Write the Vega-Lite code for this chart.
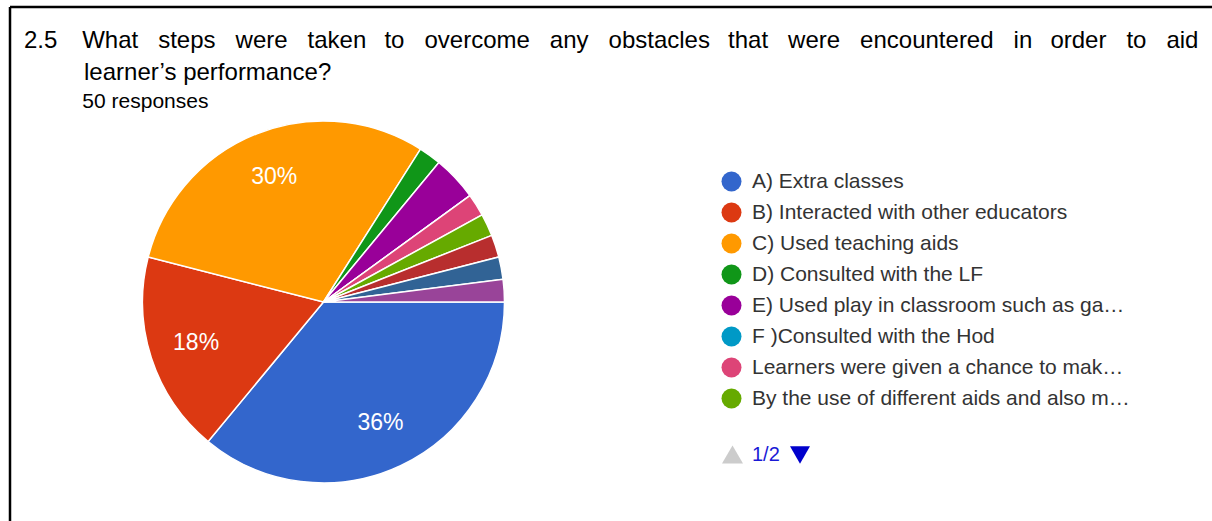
{
  "$schema": "https://vega.github.io/schema/vega-lite/v6.json",
  "width": 1202,
  "height": 514,
  "autosize": {"type": "none"},
  "padding": {"left": 10, "top": 7, "right": 0, "bottom": 0},
  "background": "white",
  "view": {"stroke": "#000000", "strokeWidth": 2.5, "strokeDash": [1202, 1716, 514, 0]},
  "config": {
    "font": "Liberation Sans"
  },
  "title": {
    "text": [
      "2.5\u00a0\u00a0\u00a0\u2009What\u00a0\u00a0\u00a0steps\u00a0\u00a0\u00a0were\u00a0\u00a0\u00a0taken\u00a0\u00a0\u2009to\u00a0\u00a0\u00a0overcome\u00a0\u00a0\u00a0any\u00a0\u00a0\u00a0obstacles\u00a0\u00a0\u2009that\u00a0\u00a0\u00a0were\u00a0\u00a0\u00a0encountered\u00a0\u00a0\u00a0in\u00a0\u00a0\u2009order\u00a0\u00a0\u00a0to\u00a0\u00a0\u00a0aid",
      "\u200b\u00a0\u00a0\u00a0\u00a0\u00a0\u00a0\u00a0\u00a0\u00a0learner\u2019s performance?"
    ],
    "subtitle": "\u200b\u00a0\u00a0\u00a0\u00a0\u00a0\u00a0\u00a0\u00a0\u00a0\u00a050 responses",
    "anchor": "start",
    "frame": "group",
    "orient": "top",
    "offset": -105,
    "dx": 14,
    "font": "Liberation Sans",
    "fontSize": 24,
    "fontWeight": "normal",
    "color": "#000000",
    "lineHeight": 32,
    "subtitleFont": "Liberation Sans",
    "subtitleFontSize": 21,
    "subtitleColor": "#000000",
    "subtitlePadding": 6
  },
  "data": {
    "values": [
      {"k": 1, "option": "A) Extra classes", "count": 18, "pct": 0.36},
      {"k": 2, "option": "B) Interacted with other educators", "count": 9, "pct": 0.18},
      {"k": 3, "option": "C) Used teaching aids", "count": 15, "pct": 0.30},
      {"k": 4, "option": "D) Consulted with the LF", "count": 1, "pct": 0.02},
      {"k": 5, "option": "E) Used play in classroom such as games", "count": 2, "pct": 0.04},
      {"k": 6, "option": "F )Consulted with the Hod", "count": 0, "pct": 0.0},
      {"k": 7, "option": "Learners were given a chance to make their own examples", "count": 1, "pct": 0.02},
      {"k": 8, "option": "By the use of different aids and also more exercises", "count": 1, "pct": 0.02},
      {"k": 9, "option": "Response 9", "count": 1, "pct": 0.02},
      {"k": 10, "option": "Response 10", "count": 1, "pct": 0.02},
      {"k": 11, "option": "Response 11", "count": 1, "pct": 0.02}
    ]
  },
  "resolve": {"scale": {"shape": "independent"}, "legend": {"shape": "independent"}},
  "layer": [
    {
      "mark": {"type": "arc", "x": 313.5, "y": 295, "outerRadius": 181, "stroke": "white", "strokeWidth": 1.5},
      "encoding": {
        "theta": {"field": "count", "type": "quantitative", "stack": true, "scale": {"range": [1.5707963, 7.8539816]}},
        "order": {"field": "k", "type": "quantitative"},
        "color": {
          "field": "option",
          "type": "nominal",
          "scale": {
            "domain": [
              "A) Extra classes",
              "B) Interacted with other educators",
              "C) Used teaching aids",
              "D) Consulted with the LF",
              "E) Used play in classroom such as games",
              "F )Consulted with the Hod",
              "Learners were given a chance to make their own examples",
              "By the use of different aids and also more exercises",
              "Response 9",
              "Response 10",
              "Response 11"
            ],
            "range": ["#3366cc", "#dc3912", "#ff9900", "#109618", "#990099", "#0099c6", "#dd4477", "#66aa00", "#b82e2e", "#316395", "#994499"]
          },
          "legend": {
            "orient": "none",
            "legendX": 711,
            "legendY": 164,
            "title": null,
            "padding": 0,
            "values": [
              "A) Extra classes",
              "B) Interacted with other educators",
              "C) Used teaching aids",
              "D) Consulted with the LF",
              "E) Used play in classroom such as games",
              "F )Consulted with the Hod",
              "Learners were given a chance to make their own examples",
              "By the use of different aids and also more exercises"
            ],
            "symbolType": "circle",
            "symbolSize": 400,
            "symbolStrokeWidth": 0,
            "labelFont": "Liberation Sans",
            "labelFontSize": 21,
            "labelColor": "#333333",
            "labelLimit": 382,
            "labelOffset": 10,
            "rowPadding": 9
          }
        }
      }
    },
    {
      "mark": {"type": "text", "x": 313.5, "y": 295, "radius": 134, "fontSize": 23, "fill": "white", "font": "Liberation Sans"},
      "encoding": {
        "theta": {"field": "count", "type": "quantitative", "stack": true},
        "order": {"field": "k", "type": "quantitative"},
        "text": {"condition": {"test": "datum.pct >= 0.1", "field": "pct", "type": "quantitative", "format": ".0%"}, "value": ""}
      }
    },
    {
      "mark": {"type": "point", "filled": true, "color": "#cccccc", "opacity": 0},
      "encoding": {
        "shape": {
          "datum": "1/2",
          "type": "nominal",
          "scale": {"range": ["triangle-up"]},
          "legend": {
            "orient": "none",
            "legendX": 712,
            "legendY": 437,
            "title": null,
            "padding": 0,
            "symbolSize": 441,
            "symbolFillColor": "#cccccc",
            "symbolStrokeWidth": 0,
            "symbolOpacity": 1,
            "labelFont": "Liberation Sans",
            "labelFontSize": 20,
            "labelColor": "#1a1ad6",
            "labelOffset": 9
          }
        }
      }
    },
    {
      "mark": {"type": "point", "filled": true, "color": "#0000cc", "opacity": 0},
      "encoding": {
        "shape": {
          "datum": "next page",
          "type": "nominal",
          "scale": {"range": ["triangle-down"]},
          "legend": {
            "orient": "none",
            "legendX": 780,
            "legendY": 438,
            "title": null,
            "padding": 0,
            "symbolSize": 400,
            "symbolFillColor": "#0000cc",
            "symbolStrokeWidth": 0,
            "symbolOpacity": 1,
            "labelExpr": "''",
            "labelFontSize": 20
          }
        }
      }
    }
  ]
}
